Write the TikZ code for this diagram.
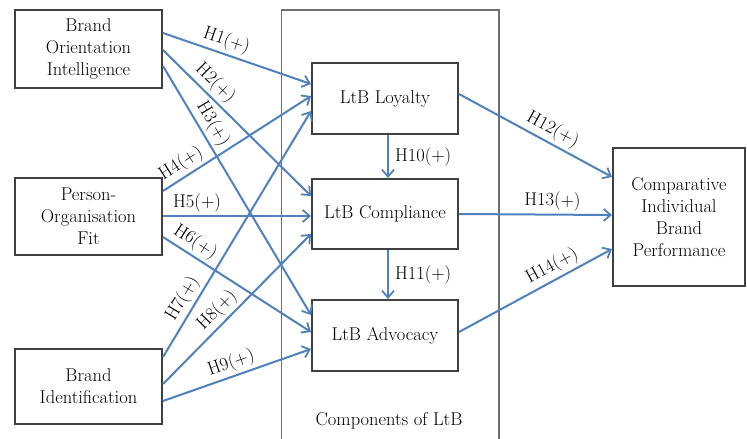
\documentclass[tikz,border=0pt]{standalone}
\usetikzlibrary{arrows.meta,calc}
\definecolor{linkblue}{RGB}{79,129,189}
\definecolor{boxgray}{RGB}{64,64,64}
\definecolor{framegray}{RGB}{110,110,110}
\begin{document}
\begin{tikzpicture}[x=1pt,y=-1pt,
  every node/.style={font=\fontsize{18.5}{22}\selectfont},
  construct/.style={draw=boxgray,line width=2pt,fill=white,align=center,inner sep=0pt},
  link/.style={draw=linkblue,line width=2pt,-{Straight Barb[length=7pt,width=12pt,line width=1.8pt]}},
  hyp/.style={sloped,above,inner sep=3pt},
]
\useasboundingbox (0,0) rectangle (747,439);

% frame grouping the LtB components (open at the bottom)
\draw[framegray,line width=1.2pt] (281.5,439) -- (281.5,10) -- (499,10) -- (499,439);
\node (frame) at (389,421) {Components of LtB};

% antecedents
\node[construct,minimum width=147pt,minimum height=78pt] (boi) at (88.5,49)
  {Brand\\Orientation\\Intelligence};
\node[construct,minimum width=147pt,minimum height=77pt] (pof) at (88.5,216.5)
  {Person-\\Organisation\\Fit};
\node[construct,minimum width=147pt,minimum height=75pt] (bi) at (88.5,386.5)
  {Brand\\Identification};

% LtB components
\node[construct,minimum width=146pt,minimum height=71pt] (loy) at (385,98.5) {LtB Loyalty};
\node[construct,minimum width=146pt,minimum height=70pt] (com) at (385,214) {LtB Compliance};
\node[construct,minimum width=146pt,minimum height=71pt] (adv) at (385,335.5) {LtB Advocacy};

% outcome
\node[construct,minimum width=132pt,minimum height=138pt] (cibp) at (679,217)
  {Comparative\\Individual\\Brand\\Performance};

% hypotheses from the antecedents
\draw[link] ($(boi.north east)+(0,24)$) -- node[hyp,pos=0.4]{H1(+)} ($(loy.north west)+(0,22)$);
\draw[link] ($(boi.north east)+(0,41)$) -- node[hyp,pos=0.29]{H2(+)} ($(com.north west)+(0,18)$);
\draw[link] ($(boi.north east)+(0,57)$) -- node[hyp,pos=0.26]{H3(+)} ($(adv.north west)+(0,16)$);
\draw[link] ($(pof.north east)+(0,14)$) -- node[hyp,pos=0.17]{H4(+)} ($(loy.north west)+(0,34)$);
\draw[link] ($(pof.north east)+(0,39)$) -- node[hyp,pos=0.23]{H5(+)} ($(com.north west)+(0,38)$);
\draw[link] ($(pof.north east)+(0,60)$) -- node[hyp,pos=0.17]{H6(+)} ($(adv.north west)+(0,33)$);
\draw[link] ($(bi.north east)+(0,9)$) -- node[hyp,pos=0.21]{H7(+)} ($(loy.north west)+(0,49)$);
\draw[link] ($(bi.north east)+(0,36)$) -- node[hyp,pos=0.43]{H8(+)} ($(com.north west)+(0,56)$);
\draw[link] ($(bi.north east)+(0,53)$) -- node[hyp,pos=0.49]{H9(+)} ($(adv.north west)+(0,50)$);

% hypotheses among the components
\draw[link] ($(loy.south)+(3,0)$) -- node[right,inner sep=6pt]{H10(+)} ($(com.north)+(3,0)$);
\draw[link] ($(com.south)+(3,0)$) -- node[right,inner sep=6pt]{H11(+)} ($(adv.north)+(3,0)$);

% hypotheses towards the outcome
\draw[link] ($(loy.north east)+(0,32)$) -- node[hyp,pos=0.57]{H12(+)} ($(cibp.north west)+(0,30)$);
\draw[link] (com.east) -- node[hyp,pos=0.61]{H13(+)} ($(cibp.north west)+(0,68)$);
\draw[link] ($(adv.north east)+(0,33)$) -- node[hyp,pos=0.65]{H14(+)} ($(cibp.north west)+(0,102)$);
\end{tikzpicture}
\end{document}
